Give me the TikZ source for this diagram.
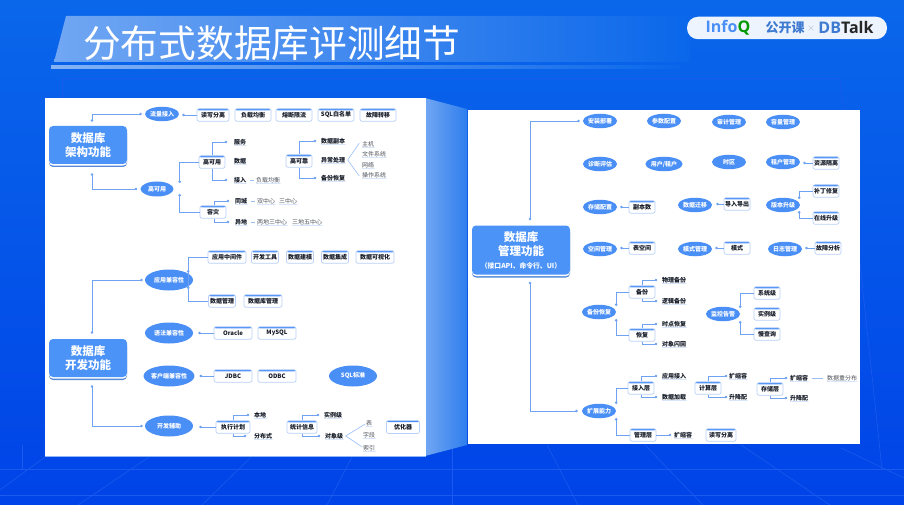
\documentclass[tikz,border=0pt]{standalone}
\usepackage{fontspec}
\setmainfont{Noto Sans CJK SC}
\newfontfamily\logofont{Open Sans}
\usetikzlibrary{arrows.meta,shapes.geometric,shadows}
\definecolor{bgtop}{HTML}{0A67EA}
\definecolor{bgbot}{HTML}{0043E8}
\definecolor{gridblue}{HTML}{1A5AEE}
\definecolor{mainblue}{HTML}{4C93F8}
\definecolor{ellblue}{HTML}{4A8FF6}
\definecolor{lineblue}{HTML}{6FA3F2}
\definecolor{edgeblue}{HTML}{B9D0F7}
\definecolor{ulblue}{HTML}{D9E5FA}
\definecolor{inktext}{HTML}{141A26}

\begin{document}
\begin{tikzpicture}[x=1pt,y=-1pt]
\tikzstyle{mainblock}=[rectangle, rounded corners=4pt, fill=mainblue, text=white, inner sep=0pt, minimum width=78pt, minimum height=38pt, align=center, font=\fontsize{11.5}{14}\selectfont\bfseries, general shadow={shadow yshift=-3pt,fill=mainblue!85!black!90}, general shadow={shadow yshift=-1.6pt,fill=white}]
\tikzstyle{ell}=[ellipse, fill=ellblue, text=white, inner sep=0pt, minimum width=34pt, minimum height=14.5pt, font=\fontsize{6}{7}\selectfont\bfseries]
\tikzstyle{bigell}=[ell, minimum width=48pt, minimum height=21pt]
\tikzstyle{tag}=[rectangle, rounded corners=2pt, draw=edgeblue, line width=0.7pt, fill=white, text=inktext, inner sep=0pt, minimum width=26pt, minimum height=12.5pt, font=\fontsize{6}{7}\selectfont\bfseries, path picture={\fill[ellblue] (path picture bounding box.north west) rectangle ([yshift=-1.6pt]path picture bounding box.north east);}]
\tikzstyle{leaf}=[rectangle, text=inktext, inner xsep=0.5pt, inner ysep=1.5pt, font=\fontsize{6}{7}\selectfont\bfseries, path picture={\fill[ulblue] ([yshift=1pt]path picture bounding box.south west) rectangle (path picture bounding box.south east);}]
\tikzstyle{subleaf}=[leaf, font=\fontsize{6}{7}\selectfont, text=inktext!75]
\tikzstyle{conn}=[draw=lineblue, line width=0.8pt, {Circle[length=2.6pt]}-{Circle[length=2.6pt]}]
\tikzstyle{link}=[draw=lineblue, line width=0.8pt, -{Circle[length=2.6pt]}]
\tikzstyle{plainlink}=[draw=lineblue!70, line width=0.6pt]
\tikzstyle{gridline}=[draw=gridblue, line width=0.6pt]

\useasboundingbox (0,0) rectangle (904,505);

% background
\shade[top color=bgtop, bottom color=bgbot] (0,0) rectangle (904,505);
\foreach \xa/\ya/\xb/\yb in {0/469/904/469,0/495/904/495,22/445/22/469,452/445/452/505,45/457/0/490,149/457/78/505,251/457/202/505,352/457/327/505,547/445/578/505,645/445/703/505,741/445/830/505,841/448/904/478,62/78/62/98,62/78/840/78,840/78/882/469}
  \draw[gridline] (\xa,\ya) -- (\xb,\yb);

% title band
\shade[left color=white!42!bgtop, right color=bgtop] (66,16) -- (690,16) -- (690,62) -- (54,62) -- cycle;
\shade[left color=white!50!bgtop, right color=bgtop] (51,66) rectangle (680,68.5);
\node[text=white, anchor=west, inner sep=0pt, font=\fontsize{37.7}{40}\selectfont] (title) at (83,43) {分布式数据库评测细节};

% logo
\node[rectangle, rounded corners=11pt, fill=white!93!bgtop, minimum width=200pt, minimum height=22.5pt, inner sep=0pt] (pill) at (787,28) {};
\node[inner sep=0pt, font=\logofont\fontsize{16}{18}\selectfont\bfseries] (infoq) at (728,28) {\textcolor{ellblue}{Info}\textcolor{green!60!black}{Q}};
\node[inner sep=0pt, text=ellblue!85!black, font=\fontsize{13}{14}\selectfont\bfseries] (open) at (785,28) {公开课};
\node[inner sep=0pt, text=black!25, font=\fontsize{8}{9}\selectfont] (times) at (811,29) {×};
\node[inner sep=0pt, font=\logofont\fontsize{16}{18}\selectfont\bfseries] (dbtalk) at (846,28) {\textcolor{ellblue!85!black}{DB}\textcolor{black!85}{Talk}};

% panels
\shade[left color=white!42!bgtop, right color=bgtop!85!white] (425,98) -- (467,109) -- (467,445) -- (425,456) -- cycle;
\fill[white] (45,98) rectangle (426,456);
\draw[edgeblue!60!ellblue, line width=0.6pt] (45,456) -- (426,456);
\fill[white] (468,110) rectangle (860,444);

% architecture blocks
\node[mainblock] (arch) at (88,145) {数据库\\架构功能};
\node[ell, minimum width=33pt] (traffic) at (162,114) {流量接入};
\node[tag, minimum width=32pt] (rwsplit) at (213,115) {读写分离};
\node[tag, minimum width=36pt] (balance) at (253,115) {负载均衡};
\node[tag, minimum width=36pt] (breaker) at (294,115) {熔断限流};
\node[tag, minimum width=36pt] (sqlwhite) at (336,115) {SQL白名单};
\node[tag, minimum width=36pt] (failover) at (378,115) {故障转移};
\node[ell, minimum width=33pt, minimum height=15pt] (avail) at (157,189) {高可用};
\node[tag] (highavail) at (212,162) {高可用};
\node[tag] (disaster) at (213,212) {容灾};
\node[leaf] (service) at (240,142) {服务};
\node[leaf] (datanode) at (240,161) {数据};
\node[leaf] (access) at (240,180) {接入};
\node[subleaf] (accessbal) at (268,180) {负载均衡};
\node[tag] (reliable) at (299,161) {高可靠};
\node[leaf] (replica) at (333,141) {数据副本};
\node[leaf] (fault) at (333,160) {异常处理};
\node[leaf] (backup) at (333,178) {备份恢复};
\node[subleaf] (host) at (368,144) {主机};
\node[subleaf] (filesys) at (374,154) {文件系统};
\node[subleaf] (network) at (368,165) {网络};
\node[subleaf] (opsys) at (374,175) {操作系统};
\node[leaf] (samecity) at (241,201) {同城};
\node[subleaf] (twocenter) at (266,201) {双中心};
\node[subleaf] (threecenter) at (288,201) {三中心};
\node[leaf] (offsite) at (241,222) {异地};
\node[subleaf] (twothree) at (272,222) {两地三中心};
\node[subleaf] (threefive) at (307,222) {三地五中心};

\draw[conn] ([xshift=4pt,yshift=4pt]arch.north) |- ([xshift=-3pt]traffic.west);
\draw[conn] ([xshift=4pt,yshift=-9pt]arch.south) |- ([xshift=-3pt]avail.west);
\draw[link] (rwsplit.west) -- ([xshift=3pt]traffic.east |- rwsplit.west);
\draw[link] (highavail.west) -| ([xshift=6pt,yshift=6pt]avail.east);
\draw[link] (disaster.west) -| ([xshift=6pt,yshift=-5pt]avail.east);
\draw[link] (highavail.north) |- ([xshift=-6pt]service.west);
\draw[link] (highavail.south) |- ([xshift=-6pt]access.west);
\draw[link] (reliable.north) |- ([xshift=-4pt]replica.west);
\draw[link] (reliable.south) |- ([xshift=-4pt]backup.west);
\draw[link] ([xshift=1pt]disaster.north) |- ([xshift=-5pt]samecity.west);
\draw[link] ([xshift=1pt]disaster.south) |- ([xshift=-5pt]offsite.west);
\draw[plainlink] ([xshift=3pt]access.east) -- ([xshift=-1pt]accessbal.west);
\draw[plainlink] ([xshift=3pt]samecity.east) -- ([xshift=-1pt]twocenter.west);
\draw[plainlink] ([xshift=3pt]offsite.east) -- ([xshift=-1pt]twothree.west);
\draw[plainlink] ([xshift=-2pt,yshift=1pt]host.west) -- ([xshift=2pt]fault.east) -- ([xshift=-2pt,yshift=-1pt]opsys.west);

% development blocks
\node[mainblock] (devel) at (88,358) {数据库\\开发功能};
\node[bigell] (appcompat) at (169,280) {应用兼容性};
\node[tag, minimum width=38pt] (middleware) at (227,257) {应用中间件};
\node[tag, minimum width=27pt] (devtool) at (265,257) {开发工具};
\node[tag, minimum width=27pt] (modeling) at (300,257) {数据建模};
\node[tag, minimum width=27pt] (integrate) at (335,257) {数据集成};
\node[tag, minimum width=38pt] (visual) at (375,257) {数据可视化};
\node[tag, minimum width=27pt] (datamgr) at (222,301) {数据管理};
\node[tag, minimum width=38pt] (dbmgr) at (263,301) {数据库管理};
\node[bigell] (syntax) at (169,333) {语法兼容性};
\node[tag, minimum width=38pt] (oracle) at (233,333) {Oracle};
\node[tag, minimum width=38pt] (mysql) at (277,333) {MySQL};
\node[bigell] (client) at (169,376) {客户端兼容性};
\node[tag, minimum width=38pt] (jdbc) at (233,376) {JDBC};
\node[tag, minimum width=38pt] (odbc) at (277,376) {ODBC};
\node[bigell] (sqlstd) at (353,376) {SQL标准};
\node[bigell] (devaid) at (169,426) {开发辅助};
\node[tag, minimum width=34pt] (plan) at (233,427) {执行计划};
\node[leaf] (localnode) at (260,415) {本地};
\node[leaf] (distnode) at (263,436) {分布式};
\node[tag, minimum width=30pt] (stats) at (302,427) {统计信息};
\node[leaf] (instlevel) at (333,415) {实例级};
\node[leaf] (objlevel) at (334,436) {对象级};
\node[subleaf] (tablenode) at (369,423) {表};
\node[subleaf] (fieldnode) at (369,435) {字段};
\node[subleaf] (indexnode) at (369,448) {索引};
\node[tag, minimum width=33pt, minimum height=13pt] (optimizer) at (403,427) {优化器};

\draw[conn] ([xshift=4pt,yshift=5pt]devel.north) |- ([xshift=-2pt]appcompat.west);
\draw[conn] ([xshift=4pt,yshift=-8pt]devel.south) |- ([xshift=-2pt]devaid.west);
\draw[link] (middleware.west) -| ([xshift=-5pt,yshift=-9pt]appcompat.east);
\draw[link] (datamgr.west) -| ([xshift=-5pt,yshift=10pt]appcompat.east);
\draw[link] (oracle.west) -- ([xshift=5pt]syntax.east |- oracle.west);
\draw[link] (jdbc.west) -- ([xshift=5pt]client.east |- jdbc.west);
\draw[link] (plan.west) -- ([xshift=6pt]devaid.east |- plan.west);
\draw[link] (plan.north) |- ([xshift=-4pt]localnode.west);
\draw[link] (plan.south) |- ([xshift=-7pt]distnode.west);
\draw[link] (stats.north) |- ([xshift=-4pt]instlevel.west);
\draw[link] (stats.south) |- ([xshift=-4pt]objlevel.west);
\draw[plainlink] ([yshift=-1pt]tablenode.west) -- ([xshift=2pt]objlevel.east) -- ([yshift=1pt]indexnode.west);

% management blocks
\node[mainblock, minimum width=98pt, minimum height=49pt] (manage) at (521,250) {数据库\\管理功能\\[-1pt]{\fontsize{6.8}{8}\selectfont （接口API、命令行、UI）}};
\node[ell] (install) at (600,121) {安装部署};
\node[ell] (params) at (664,121) {参数配置};
\node[ell] (audit) at (729,122) {审计管理};
\node[ell] (capacity) at (783,122) {容量管理};
\node[ell] (diagnose) at (600,164) {诊断评估};
\node[ell] (users) at (664,164) {用户/租户};
\node[ell] (timezone) at (729,162) {时区};
\node[ell] (tenant) at (783,162) {租户管理};
\node[tag] (isolate) at (826,163) {资源隔离};
\node[ell] (storage) at (600,207) {存储配置};
\node[tag] (copies) at (642,207) {副本数};
\node[ell] (migrate) at (695,205) {数据迁移};
\node[tag] (importexport) at (737,204) {导入导出};
\node[ell] (upgrade) at (783,205) {版本升级};
\node[tag] (patch) at (826,191) {补丁修复};
\node[tag] (online) at (826,218) {在线升级};
\node[ell] (space) at (600,249) {空间管理};
\node[tag] (tablespace) at (642,248) {表空间};
\node[ell] (schemamgr) at (695,249) {模式管理};
\node[tag] (schemanode) at (737,248) {模式};
\node[ell] (logmgr) at (785,249) {日志管理};
\node[tag] (analysis) at (828,248) {故障分析};
\node[ell] (backres) at (599,312) {备份恢复};
\node[tag] (bak) at (642,292) {备份};
\node[tag] (res) at (642,335) {恢复};
\node[leaf] (physbak) at (674,280) {物理备份};
\node[leaf] (logibak) at (674,301) {逻辑备份};
\node[leaf] (pitr) at (674,324) {时点恢复};
\node[leaf] (flashback) at (674,344) {对象闪回};
\node[ell] (monitor) at (723,314) {监控告警};
\node[tag] (syslevel) at (767,293) {系统级};
\node[tag] (inslevel) at (767,314) {实例级};
\node[tag] (slowq) at (767,334) {慢查询};
\node[ell] (scale) at (599,411) {扩展能力};
\node[tag] (acclayer) at (641,388) {接入层};
\node[tag] (mgrlayer) at (643,435) {管理层};
\node[leaf] (appacc) at (674,376) {应用接入};
\node[leaf] (dataload) at (674,397) {数据加载};
\node[tag] (complayer) at (708,388) {计算层};
\node[leaf] (compscale) at (738,376) {扩缩容};
\node[leaf] (compspec) at (738,397) {升降配};
\node[tag] (storlayer) at (770,389) {存储层};
\node[leaf] (storscale) at (799,378) {扩缩容};
\node[leaf] (storspec) at (799,398) {升降配};
\node[subleaf] (rebalance) at (842,378) {数据重分布};
\node[leaf] (mgrscale) at (683,435) {扩缩容};
\node[tag, minimum width=30pt] (rwmgr) at (721,435) {读写分离};

\draw[conn] ([xshift=9pt,yshift=5pt]manage.north) |- ([xshift=-3pt]install.west);
\draw[conn] ([xshift=9pt,yshift=-7pt]manage.south) |- ([xshift=-4pt]scale.west);
\draw[link] (isolate.west) -- ([xshift=3pt]tenant.east |- isolate.west);
\draw[link] (copies.west) -- ([xshift=3pt]storage.east |- copies.west);
\draw[link] (importexport.west) -- ([xshift=4pt]migrate.east |- importexport.west);
\draw[link] (patch.west) -| ([xshift=-1pt,yshift=6pt]upgrade.east);
\draw[link] (online.west) -| ([xshift=-1pt,yshift=-6pt]upgrade.east);
\draw[link] (tablespace.west) -- ([xshift=3pt]space.east |- tablespace.west);
\draw[link] (schemanode.west) -- ([xshift=3pt]schemamgr.east |- schemanode.west);
\draw[link] (analysis.west) -- ([xshift=3pt]logmgr.east |- analysis.west);
\draw[link] (bak.west) -| ([xshift=0pt,yshift=6pt]backres.east);
\draw[link] (res.west) -| ([xshift=0pt,yshift=-7pt]backres.east);
\draw[link] (bak.north) |- ([xshift=-4pt]physbak.west);
\draw[link] (bak.south) |- ([xshift=-4pt]logibak.west);
\draw[link] (res.north) |- ([xshift=-4pt]pitr.west);
\draw[link] (res.south) |- ([xshift=-4pt]flashback.west);
\draw[link] (syslevel.west) -| ([xshift=0pt,yshift=6pt]monitor.east);
\draw[link] (slowq.west) -| ([xshift=0pt,yshift=-7pt]monitor.east);
\draw[link] (acclayer.west) -| ([xshift=0pt,yshift=7pt]scale.east);
\draw[link] (mgrlayer.west) -| ([xshift=0pt,yshift=-7pt]scale.east);
\draw[link] (acclayer.north) |- ([xshift=-4pt]appacc.west);
\draw[link] (acclayer.south) |- ([xshift=-4pt]dataload.west);
\draw[link] (complayer.north) |- ([xshift=-1pt]compscale.west);
\draw[link] (complayer.south) |- ([xshift=-1pt]compspec.west);
\draw[link] (storlayer.north) |- ([xshift=-2pt]storscale.west);
\draw[link] (storlayer.south) |- ([xshift=-2pt]storspec.west);
\draw[link] (mgrlayer.east) -- ([xshift=-2pt]mgrscale.west);
\draw[plainlink] ([xshift=3pt]storscale.east) -- ([xshift=-3pt]rebalance.west);

\end{tikzpicture}
\end{document}
